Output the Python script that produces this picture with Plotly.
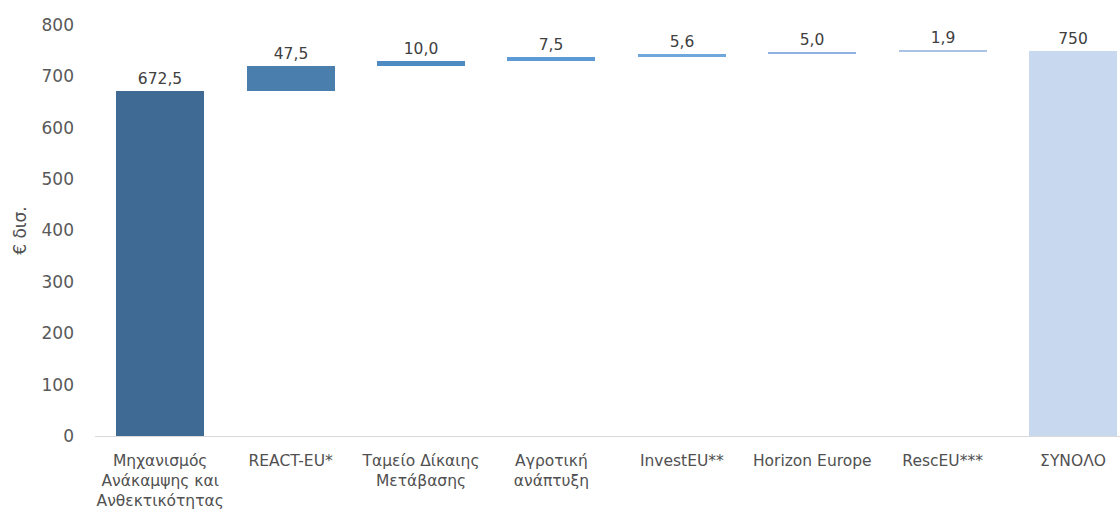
import plotly.graph_objects as go
import numpy as np

categories = [
    "Μηχανισμός<br>Ανάκαμψης και<br>Ανθεκτικότητας",
    "REACT-EU*",
    "Ταμείο Δίκαιης<br>Μετάβασης",
    "Αγροτική<br>ανάπτυξη",
    "InvestEU**",
    "Horizon Europe",
    "RescEU***",
    "ΣΥΝΟΛΟ",
]
components = [672.5, 47.5, 10.0, 7.5, 5.6, 5.0, 1.9]
total = 750
colors = ["#3E6A94", "#4A7EAD", "#4F8BC3", "#5B9AD4", "#6FA6DB", "#8EB3E2", "#A9C3E2", "#C8D8EE"]

values = components + [total]
bases = list(np.concatenate([[0], np.cumsum(components)[:-1]])) + [0]
labels = [f"{v:.1f}".replace(".", ",") for v in components] + [f"{total:d}"]

font_family = "DejaVu Sans, sans-serif"

fig = go.Figure(
    go.Bar(
        x=list(range(len(categories))),
        y=values,
        base=bases,
        width=0.675,
        marker=dict(color=colors, line=dict(width=0)),
        text=labels,
        textposition="outside",
        cliponaxis=False,
        textfont=dict(size=15.5, color="#404040", family=font_family),
    )
)

fig.update_layout(
    width=1120,
    height=510,
    margin=dict(l=95, r=0, t=25, b=74),
    plot_bgcolor="white",
    paper_bgcolor="white",
    showlegend=False,
    font=dict(family=font_family, color="#404040"),
    bargap=0,
)
fig.update_xaxes(
    tickmode="array",
    tickvals=list(range(len(categories))),
    ticktext=categories,
    range=[-0.5, 7.36],
    showline=True,
    linecolor="#D9D9D9",
    linewidth=1,
    ticks="",
    tickfont=dict(size=15.5, color="#505050"),
    ticklabelstandoff=10,
    showgrid=False,
    zeroline=False,
)
fig.update_yaxes(
    range=[0, 800],
    dtick=100,
    showgrid=False,
    zeroline=False,
    showline=False,
    ticks="",
    tickfont=dict(size=17, color="#595959"),
    ticklabelstandoff=20,
    title=dict(text="€ δισ.", font=dict(size=17, color="#505050"), standoff=10),
)

fig.write_html("out.html")
